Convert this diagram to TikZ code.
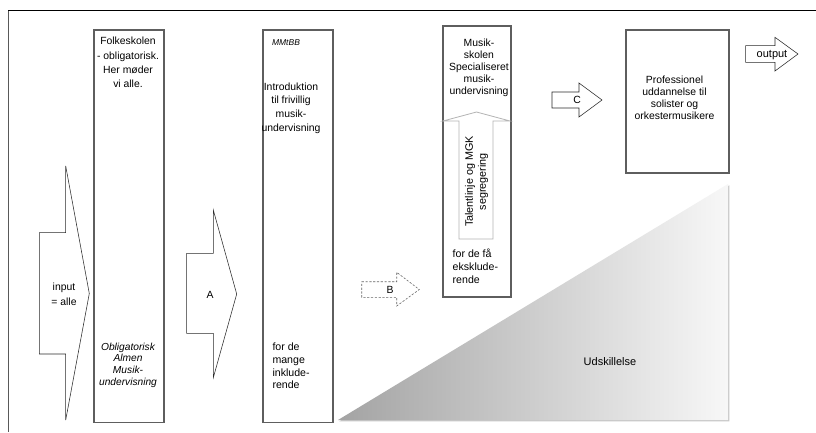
\documentclass[tikz,border=0pt]{standalone}
\usepackage{fontspec}
\setmainfont{Liberation Sans}
\usetikzlibrary{shadows}
\definecolor{boxgray}{HTML}{5E5E5E}
\definecolor{arrgray}{HTML}{2A2A2A}
\definecolor{lightedge}{HTML}{B4B4B4}
\begin{document}
\begin{tikzpicture}[x=1pt,y=-1pt,
  bigbox/.style={draw=boxgray, line width=1.5pt, fill=white, inner sep=0pt, anchor=north west,
    drop shadow={shadow xshift=1.2pt, shadow yshift=-1.2pt, opacity=0.25, fill=black}},
  blockarrow/.style={draw=arrgray, line width=0.55pt, fill=white, line join=miter},
  dasharrow/.style={draw=gray!80!black, line width=0.6pt, dashed, dash pattern=on 2.2pt off 1.6pt, fill=white},
  txt/.style={inner sep=0pt, align=center, font=\fontsize{10.4}{#1}\selectfont},
  txt/.default=12,
  itxt/.style={inner sep=0pt, align=center, font=\fontsize{10.2}{#1}\selectfont\itshape},
  itxt/.default=12,
  ltxt/.style={inner sep=0pt, align=left, font=\fontsize{10.6}{#1}\selectfont},
  ltxt/.default=12.7
]
\useasboundingbox (0,0) rectangle (816,432);
\fill[white] (0,0) rectangle (816,432);

% outer frame (only top and left edges visible)
\coordinate (ftl) at (8,10.7);
\coordinate (ftr) at (816,10.7);
\coordinate (fbl) at (8,432);
\draw[black, line width=0.9pt] (ftl) -- (ftr);
\draw[gray!70!black, line width=1pt] (ftl) -- (fbl);

% triangle "Udskillelse"
\path[left color=gray!72, right color=gray!6,
      drop shadow={shadow xshift=1.3pt, shadow yshift=-1.3pt, opacity=0.22, fill=black}]
  (338,420) -- (728,184) -- (728,420) -- cycle;
\node[inner sep=0pt, font=\fontsize{11}{13}\selectfont] (uds) at (610,362) {Udskillelse};

% boxes
\node[bigbox, minimum width=70pt, minimum height=392.5pt] (b1) at (93,29) {};
\node[bigbox, minimum width=70pt, minimum height=392.5pt] (b2) at (262,29) {};
\node[bigbox, minimum width=68pt, minimum height=271pt] (b3) at (442,25) {};
\node[bigbox, minimum width=103pt, minimum height=143pt] (b4) at (625,29) {};

% input arrow
\draw[blockarrow] (39.3,232.7) -- (65.7,232.7) -- (65.7,166) -- (89.3,293.5) -- (65.7,420)
  -- (65.7,354) -- (39.3,354) -- cycle;
\node[txt=14.7] (inp) at (64,294.5) {input\\= alle};

% arrow A
\draw[blockarrow] (186.7,253.3) -- (213.3,253.3) -- (213.3,210) -- (236.7,294) -- (213.3,377.7)
  -- (213.3,333.3) -- (186.7,333.3) -- cycle;
\node[txt] (la) at (210,295) {A};

% arrow B (dashed)
\draw[dasharrow] (361.7,281.7) -- (396.7,281.7) -- (396.7,272.3) -- (419.3,289.5) -- (396.7,306)
  -- (396.7,297.3) -- (361.7,297.3) -- cycle;
\node[txt] (lb) at (390,290) {B};

% arrow C
\draw[blockarrow] (552,92) -- (579,92) -- (579,83) -- (602,100) -- (579,117) -- (579,108)
  -- (552,108) -- cycle;
\node[txt] (lc) at (577,100) {C};

% output arrow
\draw[blockarrow] (745.7,45.7) -- (775,45.7) -- (775,37.3) -- (798,54) -- (775,71) -- (775,62.3)
  -- (745.7,62.3) -- cycle;
\node[inner sep=0pt, font=\fontsize{11}{13}\selectfont] (lout) at (772,55) {output};

% up arrow inside box 3
\draw[draw=lightedge, line width=0.8pt, fill=white] (459,239) -- (459,121) -- (443,121) -- (476.5,112)
  -- (510,121) -- (493,121) -- (493,239) -- cycle;
\node[inner sep=0pt, align=center, font=\fontsize{10.8}{13}\selectfont, rotate=90] (tal) at (476.5,181.5) {Talentlinje og MGK\\segregering};

% box 1 texts
\node[txt=14.3, anchor=north] (t1a) at (128,37) {Folkeskolen\\- obligatorisk.\\Her møder\\vi alle.};
\node[itxt=11.7, anchor=north] (t1b) at (128,342.5) {Obligatorisk\\Almen\\Musik-\\undervisning};

% box 2 texts
\node[inner sep=0pt, font=\fontsize{8.5}{10}\selectfont\itshape, anchor=north] (t2a) at (286,39) {MMtBB};
\node[txt=13.6, anchor=north] (t2b) at (291,82.5) {Introduktion\\til frivillig\\musik-\\undervisning};
\node[ltxt, anchor=north west] (t2c) at (272.3,343) {for de\\mange\\inklude-\\rende};

% box 3 texts
\node[txt=12, anchor=north] (t3a) at (479,38.5) {Musik-\\skolen\\Specialiseret\\musik-\\undervisning};
\node[ltxt=13, anchor=north west] (t3b) at (452.5,248.5) {for de få\\eksklude-\\rende};

% box 4 text
\node[txt=12.1, anchor=north] (t4) at (674.5,75.5) {Professionel\\uddannelse til\\solister og\\orkestermusikere};
\end{tikzpicture}
\end{document}
